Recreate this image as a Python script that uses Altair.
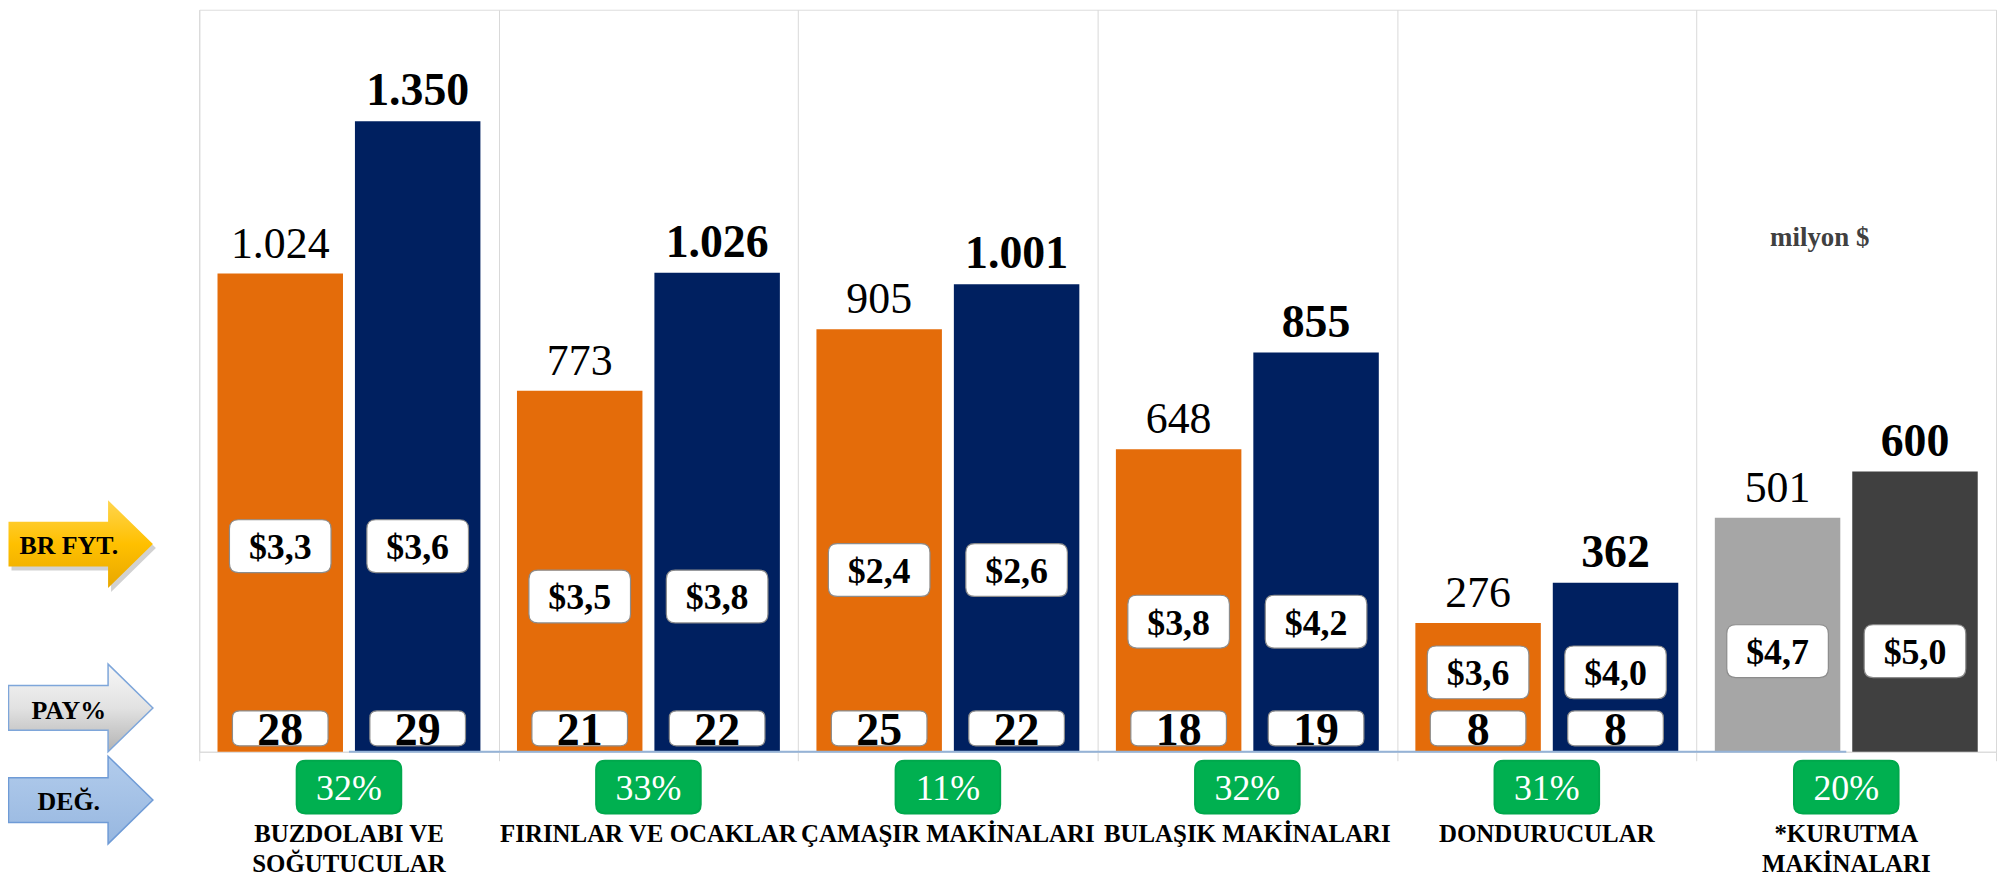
import altair as alt
import pandas as pd

categories = ["BUZDOLABI VE\nSOĞUTUCULAR", "FIRINLAR VE OCAKLAR", "ÇAMAŞIR MAKİNALARI",
              "BULAŞIK MAKİNALARI", "DONDURUCULAR", "*KURUTMA\nMAKİNALARI"]
series = ["Önceki", "Sonraki"]
values_prev = [1024, 773, 905, 648, 276, 501]
values_next = [1350, 1026, 1001, 855, 362, 600]
price_prev = [3.3, 3.5, 2.4, 3.8, 3.6, 4.7]
price_next = [3.6, 3.8, 2.6, 4.2, 4.0, 5.0]
share_prev = [28, 21, 25, 18, 8, None]
share_next = [29, 22, 22, 19, 8, None]
change_pct = [32, 33, 11, 32, 31, 20]
row_labels = ["BR FYT.", "PAY%", "DEĞ."]
unit_note = "milyon $"

rows = []
for i, c in enumerate(categories):
    label_h = max(0.43 * values_prev[i], 170)
    for s, v, p, sh in ((series[0], values_prev[i], price_prev[i], share_prev[i]),
                        (series[1], values_next[i], price_next[i], share_next[i])):
        key = s if i < len(categories) - 1 else s + "_g"
        rows.append({
            "category": c, "series": s, "value": v, "key": key,
            "vlabel": f"{v:,}".replace(",", "."),
            "plabel": "$" + f"{p:.1f}".replace(".", ","),
            "py": label_h,
            "share": sh, "slabel": "" if sh is None else str(sh),
        })
df = pd.DataFrame(rows)
cat_df = pd.DataFrame({"category": categories,
                       "chg": [f"{c}%" for c in change_pct],
                       "zero": [0] * len(categories)})

SERIF = "Liberation Serif"
YMAX = 1589

X = alt.X("category:N", sort=categories,
          scale=alt.Scale(paddingInner=0, paddingOuter=0),
          axis=alt.Axis(title=None, labels=False, grid=True, gridColor="#D9D9D9",
                        ticks=True, tickSize=9, tickColor="#D9D9D9",
                        domainColor="#D9D9D9", tickBand="extent"))
XO = alt.XOffset("series:N", sort=series,
                 scale=alt.Scale(paddingInner=0.087, paddingOuter=0.133))
YV = alt.Y("value:Q", scale=alt.Scale(domain=[0, YMAX]), axis=None)
YP = alt.Y("py:Q", scale=alt.Scale(domain=[0, YMAX]), axis=None)


def rrect(w, h, rad):
    r = w / 2
    hx, hy, c = 1, h / 2 / r, rad / r
    p = (f"M {-hx + c} {-hy} L {hx - c} {-hy} Q {hx} {-hy} {hx} {-hy + c} "
         f"L {hx} {hy - c} Q {hx} {hy} {hx - c} {hy} L {-hx + c} {hy} "
         f"Q {-hx} {hy} {-hx} {hy - c} L {-hx} {-hy + c} Q {-hx} {-hy} {-hx + c} {-hy} Z")
    return p, w * w


base = alt.Chart(df)

bars = base.mark_bar().encode(
    x=X, xOffset=XO, y=YV,
    color=alt.Color("key:N", legend=None,
                    scale=alt.Scale(domain=["Önceki", "Sonraki", "Önceki_g", "Sonraki_g"],
                                    range=["#E46C0A", "#002060", "#A6A6A6", "#404040"])))

baseline = alt.Chart(cat_df).mark_line(color="#95B3D7", strokeWidth=2).encode(
    x=X, y=alt.Y("zero:Q", scale=alt.Scale(domain=[0, YMAX]), axis=None))

lbl_prev = base.transform_filter(alt.datum.series == series[0]).mark_text(
    font=SERIF, fontSize=44, baseline="alphabetic", dy=-16, color="black").encode(
    x=X, xOffset=XO, y=YV, text="vlabel:N")
lbl_next = base.transform_filter(alt.datum.series == series[1]).mark_text(
    font=SERIF, fontSize=46, fontWeight="bold", baseline="alphabetic", dy=-16,
    color="black").encode(x=X, xOffset=XO, y=YV, text="vlabel:N")

pbox_path, pbox_size = rrect(102, 53, 9)
price_box = base.mark_point(shape=pbox_path, size=pbox_size, filled=True, fill="white",
                            stroke="#8C8C8C", strokeWidth=1.2, opacity=1).encode(
    x=X, xOffset=XO, y=YP)
price_txt = base.mark_text(font=SERIF, fontSize=36, fontWeight="bold", baseline="middle",
                           dy=2, color="black").encode(x=X, xOffset=XO, y=YP, text="plabel:N")

sbox_path, sbox_size = rrect(96, 35, 7)
share_df_filter = alt.datum.slabel != ""
share_box = base.transform_filter(share_df_filter).mark_point(
    shape=sbox_path, size=sbox_size, filled=True, fill="white", stroke="#8C8C8C",
    strokeWidth=1.2, opacity=1).encode(x=X, xOffset=XO, y=alt.value(721.5))
share_txt = base.transform_filter(share_df_filter).mark_text(
    font=SERIF, fontSize=46, fontWeight="bold", baseline="alphabetic", color="black").encode(
    x=X, xOffset=XO, y=alt.value(738), text="slabel:N")

gbox_path, gbox_size = rrect(105, 53, 9)
chg_box = alt.Chart(cat_df).mark_point(shape=gbox_path, size=gbox_size, filled=True,
                                       fill="#00B050", stroke="#00A84C", opacity=1).encode(
    x=X, y=alt.value(780.5))
chg_txt = alt.Chart(cat_df).mark_text(font=SERIF, fontSize=36, baseline="middle",
                                      color="white", dy=1).encode(
    x=X, y=alt.value(781), text="chg:N")

cat_txt = alt.Chart(cat_df).mark_text(font=SERIF, fontSize=25, fontWeight="bold",
                                      baseline="alphabetic", lineBreak="\n", lineHeight=30,
                                      color="black").encode(
    x=X, y=alt.value(836), text="category:N")

note = alt.Chart(pd.DataFrame({"t": [unit_note]})).mark_text(
    font=SERIF, fontSize=27, fontWeight="bold", color="#404040", baseline="alphabetic").encode(
    x=alt.value(1627), y=alt.value(237), text="t:N")

arrow_path = "M -1 -0.31 L 0.379 -0.31 L 0.379 -0.607 L 1 0 L 0.379 0.607 L 0.379 0.31 L -1 0.31 Z"
arrow_size = 145 * 145


def grad(stops):
    return {"gradient": "linear", "x1": 0, "y1": 0, "x2": 0, "y2": 1,
            "stops": [{"offset": o, "color": c} for o, c in stops]}


one = pd.DataFrame({"t": [0]})
arrows = []
arrow_specs = [
    (row_labels[0], 536.5, 546, grad([(0, "#FFD54F"), (0.5, "#FFC000"), (1, "#E8A700")]), None),
    (row_labels[1], 701, 712, grad([(0, "#F7F7F7"), (0.5, "#E2E2E2"), (1, "#B3B3B3")]), "#7EA6DA"),
    (row_labels[2], 793.5, 803, grad([(0, "#B2CCEC"), (1, "#97B7E0")]), "#6F9BD6"),
]
for txt, yc, ytxt, fill, stroke in arrow_specs:
    if stroke is None:
        arrows.append(alt.Chart(one).mark_point(
            shape=arrow_path, size=arrow_size, filled=True, fill="#000000",
            opacity=0.18, strokeWidth=0).encode(x=alt.value(-116), y=alt.value(yc + 4)))
        arrows.append(alt.Chart(one).mark_point(
            shape=arrow_path, size=arrow_size, filled=True, fill=fill,
            opacity=1, strokeWidth=0).encode(x=alt.value(-119), y=alt.value(yc)))
    else:
        arrows.append(alt.Chart(one).mark_point(
            shape=arrow_path, size=arrow_size, filled=True, fill=fill, stroke=stroke,
            strokeWidth=1.5, opacity=1).encode(x=alt.value(-119), y=alt.value(yc)))
    arrows.append(alt.Chart(pd.DataFrame({"t": [txt]})).mark_text(
        font=SERIF, fontSize=26, fontWeight="bold", color="black", baseline="alphabetic").encode(
        x=alt.value(-131), y=alt.value(ytxt), text="t:N"))

chart = alt.layer(
    bars, baseline, lbl_prev, lbl_next, price_box, price_txt, share_box, share_txt,
    chg_box, chg_txt, cat_txt, note, *arrows
).properties(
    width=1804, height=745,
    autosize=alt.AutoSizeParams(type="none"),
    padding={"left": 192, "top": 0, "right": 2, "bottom": 127},
).configure_view(stroke=None).configure(background="white")

chart.save("out.html", embed_options={"renderer": "svg", "actions": False})
